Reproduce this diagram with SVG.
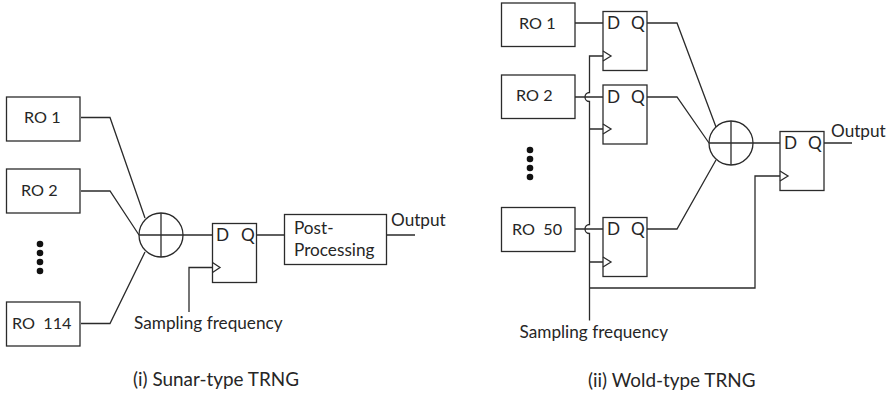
<svg xmlns="http://www.w3.org/2000/svg" width="889" height="395" viewBox="0 0 889 395">
<style>
rect,circle.x{fill:#fff;stroke:#2b2b2b;stroke-width:1.3}
path{fill:none;stroke:#2b2b2b;stroke-width:1.3}
circle.d{fill:#111;stroke:none}
text{font-family:"Lato","Open Sans",sans-serif;font-size:17.200px;fill:#262626}
text.r{font-size:16.200px}
text.w{font-size:18.900px}
</style>
<g id="connectors">
<path d="M81 117.500H110L145 218M81 191H110L139 235M81 323.500H110L145 252"/>
<path d="M183 235H212M256 235H284M386 235H415M189 312V267.500H212"/>
<path d="M575 23H603M647 23H677L716 127M575 97H603M647 97H677L709 143M575 229H603M647 229H677L716 160M753 143H780M824 143H852"/>
<path d="M603 56H589.500V92.500A4.500 4.500 0 0 0 589.500 101.500V224.500A4.500 4.500 0 0 0 589.500 233.500V320.500M589.500 129H603M589.500 262H603M589.500 288H755V176H780"/>
</g>
<g id="ro1-a"><rect x="6.500" y="97" width="73.500" height="44"/><text class="r" x="24" y="123">RO 1</text></g>
<g id="ro2-a"><rect x="6.500" y="169" width="73.500" height="44"/><text class="r" x="21" y="195.500">RO 2</text></g>
<g id="dots-a"><circle class="d" cx="40" cy="244" r="3.300"/><circle class="d" cx="40" cy="253" r="3.300"/><circle class="d" cx="40" cy="262" r="3.300"/><circle class="d" cx="40" cy="271" r="3.300"/></g>
<g id="ro114-a"><rect x="6.500" y="302" width="73.500" height="44"/><text class="r" x="12" y="329" xml:space="preserve">RO  114</text></g>
<g id="xor-a"><circle class="x" cx="161" cy="235" r="22"/><path d="M139 235H183M161 213V257"/></g>
<g id="ff-a"><rect x="212.500" y="223.500" width="44" height="59"/><path d="M212.500 262.500L220 267.500L212.500 272.500"/><text x="216" y="241">D</text><text x="241" y="241">Q</text></g>
<g id="post"><rect x="284.500" y="214.500" width="102" height="50"/><text x="294" y="233.500">Post-</text><text x="294" y="256">Processing</text></g>
<text x="391" y="226">Output</text>
<text x="134" y="328.500">Sampling frequency</text>
<text class="w" x="133" y="385.500">(i) Sunar-type TRNG</text>

<g id="ro1-b"><rect x="501.500" y="3" width="73.500" height="43.500"/><text class="r" x="519" y="29">RO 1</text></g>
<g id="ro2-b"><rect x="501.500" y="75" width="73.500" height="43.500"/><text class="r" x="516" y="101">RO 2</text></g>
<g id="dots-b"><circle class="d" cx="530" cy="150" r="3.300"/><circle class="d" cx="530" cy="159" r="3.300"/><circle class="d" cx="530" cy="168" r="3.300"/><circle class="d" cx="530" cy="177" r="3.300"/></g>
<g id="ro50-b"><rect x="501.500" y="207.500" width="73.500" height="44"/><text class="r" x="512" y="235" xml:space="preserve">RO  50</text></g>
<g id="ff1-b"><rect x="603" y="11.500" width="44" height="59"/><path d="M603 51L611 56L603 61"/><text x="607" y="29">D</text><text x="631" y="29">Q</text></g>
<g id="ff2-b"><rect x="603" y="85" width="44" height="59"/><path d="M603 124L611 129L603 134"/><text x="607" y="103">D</text><text x="631" y="103">Q</text></g>
<g id="ff3-b"><rect x="603" y="217.500" width="44" height="59"/><path d="M603 257L611 262L603 267"/><text x="607" y="235">D</text><text x="631" y="235">Q</text></g>
<g id="xor-b"><circle class="x" cx="731" cy="143" r="22"/><path d="M709 143H753M731 121V165"/></g>
<g id="ff4-b"><rect x="780" y="131.500" width="44" height="59"/><path d="M780 171L788 176L780 181"/><text x="784" y="149">D</text><text x="808" y="149">Q</text></g>
<text x="831" y="137">Output</text>
<text x="519.500" y="338">Sampling frequency</text>
<text class="w" x="588" y="387">(ii) Wold-type TRNG</text>
</svg>
